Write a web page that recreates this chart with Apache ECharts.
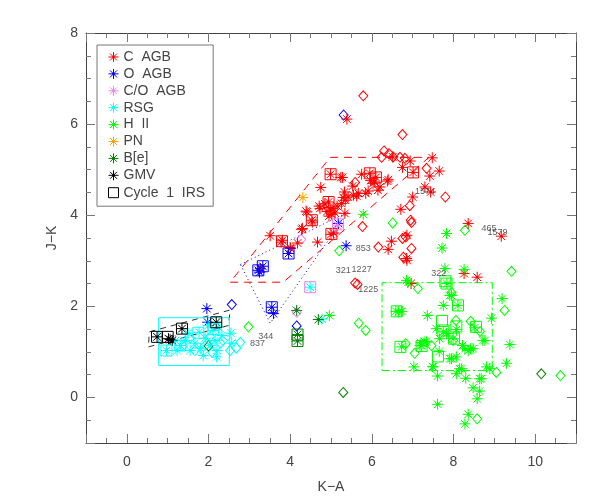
<!DOCTYPE html>
<html lang="en">
<head>
<meta charset="utf-8">
<title>J-K vs K-A</title>
<script src="https://cdn.jsdelivr.net/npm/echarts@6/dist/echarts.min.js"></script>
<style>html,body{margin:0;background:#fff}#main{width:600px;height:500px}</style>
</head>
<body>
<div id="main"></div>
<script>
// --- data: [K-A, J-K] ---
var cAgbStar = [[5.39,6.11],[4.75,4.61],[5.28,4.83],[3.51,3.55],[4.39,4.09],[4.30,3.71],[4.67,3.41],[4.18,3.39],[4.01,3.27],[4.71,4.20],[5.33,4.51],[5.55,4.44],[5.63,4.42],[5.35,4.33],[5.85,4.48],[6.20,4.62],[6.40,4.78],[6.03,4.70],[6.51,5.28],[6.94,5.19],[6.75,5.05],[7.00,4.40],[6.71,4.13],[6.48,3.43],[6.40,3.25],[6.86,3.56],[6.86,3.01],[5.34,4.04],[5.24,4.83],[6.06,4.73],[6.38,4.75],[5.91,4.53],[5.53,4.64],[5.67,4.48],[5.30,4.39],[5.26,4.26],[5.42,4.40],[4.98,4.11],[5.05,4.15],[4.90,4.08],[5.02,4.02],[4.95,3.98],[5.10,4.05],[4.73,4.15],[4.41,4.07],[4.28,3.69],[4.00,3.29],[7.48,5.26],[7.42,4.86],[7.65,4.97],[7.30,4.62],[7.44,4.51],[8.36,3.82],[9.17,3.54],[8.26,2.72],[8.58,2.64],[6.96,2.50],[4.55,3.85],[5.00,3.58],[3.78,3.41],[3.27,2.83],[5.95,4.92],[6.10,4.83],[7.01,4.94],[4.99,4.90],[4.94,4.29],[4.53,3.89],[3.81,3.45],[5.06,3.61],[4.85,4.25],[5.15,4.20],[6.85,3.05],[6.15,4.55],[5.75,4.90],[5.97,4.76]];
var cAgbDiamond = [[5.79,6.62],[6.75,5.77],[6.30,5.41],[6.24,5.27],[6.52,5.28],[6.69,5.27],[6.81,5.25],[5.59,4.72],[5.77,3.75],[6.97,3.84],[6.16,3.30],[6.97,3.27],[5.59,2.51],[5.65,2.48],[7.34,5.03],[7.80,4.40],[6.93,4.21],[6.75,3.49],[6.77,3.08],[6.95,3.89],[6.83,3.52],[6.42,5.35]];
var oAgbStar = [[5.37,3.33],[5.18,3.82],[3.22,2.79],[3.33,2.88],[3.96,3.16],[3.55,1.98],[1.96,1.95],[1.98,1.65],[3.59,1.84],[3.25,2.75]];
var oAgbDiamond = [[5.31,6.20],[2.57,2.04],[4.16,1.57]];
var coAgbStar = [[5.16,3.78]];
var coAgbDiamond = [[4.27,3.47],[4.16,1.87]];
var rsgStar = [[0.97,1.03],[1.31,1.14],[1.43,1.25],[1.55,1.03],[1.67,1.19],[1.80,1.08],[1.92,1.30],[2.04,1.14],[2.16,1.25],[2.11,1.47],[2.24,1.54],[2.33,1.36],[2.21,1.03],[2.20,0.89],[2.55,1.41],[2.57,1.19],[1.77,1.43],[1.50,1.41],[1.19,1.25],[1.23,1.03],[1.87,0.92],[1.99,1.58],[4.49,2.42],[4.78,1.72]];
var rsgDiamond = [[2.68,1.08],[2.78,1.21],[1.38,1.14],[1.67,1.03],[1.92,1.14],[2.04,1.34],[2.29,1.19],[1.55,1.30],[2.09,0.99],[2.35,1.25],[2.53,1.03]];
var hiiStar = [[5.79,4.02],[4.96,1.80],[6.85,2.57],[6.89,2.53],[7.79,2.83],[8.26,2.81],[7.83,3.60],[7.72,3.28],[7.84,2.50],[7.91,2.24],[7.75,2.02],[9.19,2.17],[6.59,1.89],[6.73,1.89],[7.36,1.80],[8.93,1.74],[7.58,1.51],[7.75,1.44],[7.83,1.40],[7.99,1.29],[7.66,1.29],[7.30,1.22],[7.22,1.14],[6.73,1.11],[8.22,1.14],[8.48,1.07],[8.77,1.25],[9.38,1.16],[7.65,1.01],[7.91,0.85],[8.07,0.89],[8.36,1.03],[9.30,0.75],[8.81,0.67],[7.03,0.67],[7.49,0.68],[8.20,0.63],[8.07,0.52],[8.30,0.42],[7.61,0.47],[8.64,0.41],[8.48,0.21],[8.64,0.14],[8.58,-0.03],[7.61,-0.15],[8.36,-0.37],[8.28,-0.58],[8.07,1.49],[7.95,2.24],[8.52,1.53],[8.72,1.25],[8.28,1.07],[8.42,1.07],[7.18,1.14],[7.34,1.22],[8.89,0.63],[8.68,0.41],[8.15,0.63],[7.95,0.85],[7.50,0.67],[6.65,1.88],[8.11,2.02],[7.20,1.20]];
var hiiDiamond = [[9.42,2.77],[7.13,2.39],[9.25,1.91],[8.06,1.69],[8.42,1.67],[6.83,1.18],[7.05,0.97],[7.46,1.14],[7.99,1.25],[9.05,0.55],[8.58,-0.47],[10.62,0.48],[5.20,3.22],[5.68,1.63],[5.85,1.47],[6.51,3.83],[2.98,1.55],[8.28,3.67],[7.95,2.30],[8.65,1.45]];
var pnStar = [[4.31,4.39]];
var beStar = [[4.69,1.71],[4.16,1.91],[4.18,1.38],[4.18,1.24]];
var beDiamond = [[10.15,0.52],[5.30,0.11],[2.00,1.13]];
var gmvStar = [[0.74,1.33],[1.02,1.29],[1.11,1.25],[1.35,1.51],[2.19,1.65],[1.06,1.27]];

// Cycle 1 IRS boxes, grouped by the colour they are drawn in
var irsCAgb = [[4.99,4.90],[5.95,4.92],[6.10,4.83],[7.01,4.94],[4.94,4.29],[4.53,3.89],[5.01,3.59],[3.80,3.43]];
var irsOAgb = [[3.22,2.79],[3.33,2.88],[3.96,3.16],[3.55,1.98]];
var irsCoAgb = [[5.17,3.80],[4.49,2.42]];
var irsRsg = [[0.97,1.03],[1.31,1.14],[1.75,1.42],[2.12,1.50]];
var irsHii = [[7.83,2.50],[8.11,2.02],[6.61,1.89],[7.72,1.68],[8.07,1.56],[8.55,1.55],[7.75,1.47],[8.01,1.29],[6.70,1.11],[7.22,1.13],[7.62,0.90],[7.80,2.55]];
var irsBe = [[4.18,1.38],[4.18,1.24]];
var irsGmv = [[0.74,1.33],[1.00,1.33],[1.35,1.51],[2.19,1.65]];

// region outlines
var cAgbRegion = [[2.53,2.53],[3.83,2.53],[7.40,5.27],[4.98,5.27],[2.53,2.53]];
var oAgbRegion = [[2.78,2.92],[5.42,4.07],[3.51,1.63],[2.78,2.92]];
var gmvRegion = [[0.53,1.11],[2.49,1.58],[2.53,1.92],[0.55,1.44],[0.53,1.11]];
var rsgRegion = [[0.78,0.70],[2.51,0.70],[2.51,1.75],[0.78,1.75],[0.78,0.70]];
var hiiRegion = [[6.25,0.59],[8.95,0.59],[8.95,2.52],[6.25,2.52],[6.25,0.59]];

// source ids written next to points
var idLabels = [[5.79,3.28,'853'],[5.30,2.79,'321'],[5.75,2.81,'1227'],[5.91,2.37,'1225'],[3.40,1.34,'344'],[3.20,1.19,'837'],[7.64,2.72,'322'],[7.30,4.53,'1574'],[8.87,3.71,'465'],[9.08,3.62,'1579']];

var RED = '#ff0000', BLUE = '#0000ff', VIOLET = '#ee82ee', CYAN = '#00ffff',
    GREEN = '#00ff00', ORANGE = '#ffa500', DKGREEN = '#007f00', BLACK = '#000000';
var STAR = 'path://M5,0L5,10M0,5L10,5M1.5,1.5L8.5,8.5M1.5,8.5L8.5,1.5M4.3,4.3L5.7,4.3L5.7,5.7L4.3,5.7Z';
var FONT = 'Liberation Sans';

function stars(name, data, color) {
    return {
        type: 'scatter', name: name, data: data, symbol: STAR, symbolSize: 11,
        itemStyle: { color: color, borderColor: color, borderWidth: 1, opacity: 1 }, z: 4
    };
}
function diamonds(name, data, color) {
    return {
        type: 'scatter', name: name, data: data, symbol: 'diamond', symbolSize: [9, 10],
        itemStyle: { color: 'none', borderColor: color, borderWidth: 1, opacity: 1 }, z: 3
    };
}
function outline(data, color, type) {
    return {
        type: 'line', data: data, symbol: 'none', silent: true, z: 2,
        lineStyle: { color: color, width: 1, type: type }
    };
}

var irsData = [];
[[irsCAgb, RED], [irsOAgb, BLUE], [irsCoAgb, VIOLET], [irsRsg, CYAN],
 [irsHii, GREEN], [irsBe, DKGREEN], [irsGmv, BLACK]].forEach(function (g) {
    g[0].forEach(function (p) {
        irsData.push({ value: p, itemStyle: { borderColor: g[1] } });
    });
});

function xAxisOf(pos, major) {
    return {
        type: 'value', min: -1, max: 11, position: pos, gridIndex: 0,
        interval: major ? null : 0.5, splitNumber: 6,
        name: (major && pos === 'bottom') ? 'K\u2212A' : '',
        nameLocation: 'middle', nameGap: 37,
        nameTextStyle: { color: '#444', fontSize: 14, fontFamily: FONT },
        axisLine: { show: major, onZero: false, lineStyle: { color: '#444', width: 1 } },
        axisTick: { show: true, inside: true, length: major ? 9 : 5, lineStyle: { color: '#777' } },
        axisLabel: {
            show: major && pos === 'bottom', color: '#444', fontSize: 14, fontFamily: FONT, margin: 12,
            formatter: function (v) { return (v % 2 === 0) ? String(v) : ''; }
        },
        splitLine: { show: false }
    };
}
function yAxisOf(pos, major) {
    return {
        type: 'value', min: -1, max: 8, position: pos, gridIndex: 0,
        interval: major ? null : 0.5, splitNumber: 5,
        name: (major && pos === 'left') ? 'J\u2212K' : '',
        nameLocation: 'middle', nameGap: 24, nameRotate: 90,
        nameTextStyle: { color: '#444', fontSize: 14, fontFamily: FONT },
        axisLine: { show: major, onZero: false, lineStyle: { color: '#444', width: 1 } },
        axisTick: { show: true, inside: true, length: major ? 9 : 5, lineStyle: { color: '#777' } },
        axisLabel: {
            show: major && pos === 'left', color: '#444', fontSize: 14, fontFamily: FONT, margin: 8,
            formatter: function (v) { return (v % 2 === 0) ? String(v) : ''; }
        },
        splitLine: { show: false }
    };
}

var legendNames = ['C  AGB', 'O  AGB', 'C/O  AGB', 'RSG', 'H  II', 'PN', 'B[e]', 'GMV', 'Cycle  1  IRS'];
var legendColors = [RED, BLUE, VIOLET, CYAN, GREEN, ORANGE, DKGREEN, BLACK, BLACK];

var chart = echarts.init(document.getElementById('main'));
chart.setOption({
    animation: false,
    backgroundColor: '#fff',
    grid: { left: 86, right: 24, top: 33, bottom: 57 },
    xAxis: [xAxisOf('bottom', true), xAxisOf('bottom', false), xAxisOf('top', true), xAxisOf('top', false)],
    yAxis: [yAxisOf('left', true), yAxisOf('left', false), yAxisOf('right', true), yAxisOf('right', false)],
    legend: {
        orient: 'vertical', left: 97, top: 45,
        padding: [5, 8, 6, 9],
        itemWidth: 10, itemHeight: 10, itemGap: 2.9,
        borderColor: '#777', borderWidth: 1,
        textStyle: { color: '#444', fontSize: 14, fontFamily: FONT },
        data: legendNames.map(function (n, i) {
            var last = i === legendNames.length - 1;
            return {
                name: n,
                icon: last ? 'rect' : STAR,
                itemStyle: { color: last ? 'none' : legendColors[i], borderColor: legendColors[i], borderWidth: 1 }
            };
        })
    },
    series: [
        outline(cAgbRegion, RED, [8, 6]),
        outline(oAgbRegion, BLUE, [1, 3]),
        outline(gmvRegion, '#333', [6, 5]),
        outline(rsgRegion, CYAN, 'solid'),
        outline(hiiRegion, GREEN, [8, 3, 2, 3]),
        diamonds('cagb-d', cAgbDiamond, RED),
        diamonds('oagb-d', oAgbDiamond, BLUE),
        diamonds('coagb-d', coAgbDiamond, VIOLET),
        diamonds('rsg-d', rsgDiamond, CYAN),
        diamonds('hii-d', hiiDiamond, GREEN),
        diamonds('be-d', beDiamond, DKGREEN),
        stars('C  AGB', cAgbStar, RED),
        stars('O  AGB', oAgbStar, BLUE),
        stars('C/O  AGB', coAgbStar, VIOLET),
        stars('RSG', rsgStar, CYAN),
        stars('H  II', hiiStar, GREEN),
        stars('PN', pnStar, ORANGE),
        stars('B[e]', beStar, DKGREEN),
        stars('GMV', gmvStar, BLACK),
        {
            type: 'scatter', name: 'Cycle  1  IRS', data: irsData, symbol: 'rect', symbolSize: 11, z: 5,
            itemStyle: { color: 'none', borderColor: BLACK, borderWidth: 1, opacity: 1 }
        },
        {
            type: 'scatter', name: 'ids', silent: true, z: 6,
            data: idLabels.map(function (d) { return { value: [d[0], d[1]], name: d[2] }; }),
            symbol: 'circle', symbolSize: 1, itemStyle: { color: 'rgba(0,0,0,0)' },
            label: { show: true, position: 'inside', formatter: '{b}', color: '#333', fontSize: 9, fontFamily: FONT }
        }
    ]
});
window.onresize = chart.resize;
</script>
</body>
</html>
